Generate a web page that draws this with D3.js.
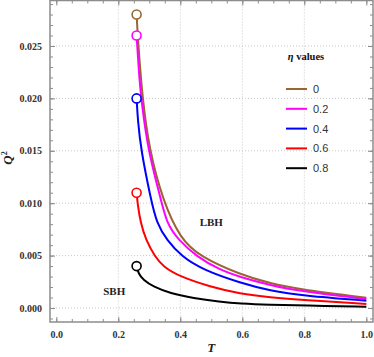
<!DOCTYPE html>
<html>
<head>
<meta charset="utf-8">
<script src="https://cdn.jsdelivr.net/npm/d3@7"></script>
<style>
  body { margin: 0; background: #fff; }
  svg { display: block; }
</style>
</head>
<body>
<svg id="svg" width="374" height="357"></svg>
<script>
// series: T values and Q^2 values
const etaLabels = ['0', '0.2', '0.4', '0.6', '0.8'];
const colors = ['#996633', '#ff00ff', '#0000ff', '#ff0000', '#000000'];

const T0 = [0.259, 0.2625, 0.2775, 0.300, 0.343, 0.400, 0.4635, 0.5926, 0.689, 0.797, 1.0];
const Q0 = [0.0280, 0.0260, 0.0200, 0.0151, 0.0103, 0.0066, 0.0049, 0.0032, 0.00234, 0.00170, 0.00098];

const T2 = [0.259, 0.268, 0.274, 0.295, 0.338, 0.356, 0.3935, 0.453, 0.528, 0.5926, 0.689, 0.797, 1.0];
const Q2 = [0.0260, 0.0218, 0.0200, 0.0151, 0.0103, 0.0081, 0.0065, 0.0049, 0.00363, 0.00296, 0.00217, 0.00156, 0.00086];

const T4 = [0.259, 0.263, 0.273, 0.3055, 0.324, 0.356, 0.4045, 0.474, 0.5926, 0.689, 0.797, 1.0];
const Q4 = [0.0200, 0.0179, 0.0151, 0.0103, 0.0081, 0.0065, 0.0049, 0.00363, 0.00240, 0.00165, 0.00117, 0.00070];

const T6 = [0.259, 0.262, 0.272, 0.289, 0.318, 0.345, 0.399, 0.496, 0.5926, 0.689, 0.797, 1.0];
const Q6 = [0.0110, 0.0100, 0.0081, 0.0065, 0.0049, 0.00394, 0.00299, 0.00203, 0.00136, 0.00102, 0.00076, 0.00038];

const T8 = [0.259, 0.2645, 0.2806, 0.313, 0.367, 0.442, 0.528, 0.5926, 0.689, 0.797, 1.0];
const Q8 = [0.0040, 0.00331, 0.00267, 0.00203, 0.00140, 0.00093, 0.00060, 0.00043, 0.00031, 0.00024, 0.00012];

const xTicks = [0, 0.2, 0.4, 0.6, 0.8, 1.0];
const yTicks = [0, 0.005, 0.010, 0.015, 0.020, 0.025];
const xGrid = [0.2, 0.4, 0.6, 0.8];

const seriesT = [T0, T2, T4, T6, T8];
const seriesQ = [Q0, Q2, Q4, Q6, Q8];

// frame
const frame = {left: 50, right: 373, top: 0.5, bottom: 322};

const svg = d3.select('#svg');

const x = d3.scaleLinear().domain([-0.0203, 1.0215]).range([frame.left, frame.right]);
const y = d3.scaleLinear().domain([-0.001336, 0.02934]).range([frame.bottom, frame.top]);

// grid lines
const grid = svg.append('g').attr('stroke', '#c8c8c8').attr('stroke-width', 1).attr('stroke-dasharray', '1,2');
grid.selectAll('line.gx').data(xGrid).join('line')
  .attr('x1', d => x(d)).attr('x2', d => x(d))
  .attr('y1', frame.top).attr('y2', frame.bottom);
grid.selectAll('line.gy').data(yTicks).join('line')
  .attr('x1', frame.left).attr('x2', frame.right)
  .attr('y1', d => y(d)).attr('y2', d => y(d));

// axes with inward ticks on all four sides
const xMinor = d3.range(0, 1.0001, 0.05);
const yMinor = d3.range(-0.001, 0.0291, 0.001);
const fmtY = d3.format('.3f');
const fmtX = d3.format('.1f');

function axisGroup(axis, tx, ty) {
  const a = svg.append('g').attr('transform', `translate(${tx},${ty})`).call(axis);
  a.select('.domain').remove();
  a.selectAll('line').attr('stroke', '#8c8c8c').attr('stroke-width', 1);
  return a;
}

// minor ticks
axisGroup(d3.axisBottom(x).tickValues(xMinor).tickSize(-3).tickFormat(''), 0, frame.bottom);
axisGroup(d3.axisTop(x).tickValues(xMinor).tickSize(-3).tickFormat(''), 0, frame.top);
axisGroup(d3.axisLeft(y).tickValues(yMinor).tickSize(-3).tickFormat(''), frame.left, 0);
axisGroup(d3.axisRight(y).tickValues(yMinor).tickSize(-3).tickFormat(''), frame.right, 0);

// major ticks + labels
const bx = axisGroup(d3.axisBottom(x).tickValues(xTicks).tickSize(-5).tickPadding(9).tickFormat(fmtX), 0, frame.bottom);
axisGroup(d3.axisTop(x).tickValues(xTicks).tickSize(-5).tickFormat(''), 0, frame.top);
const ly = axisGroup(d3.axisLeft(y).tickValues(yTicks).tickSize(-5).tickPadding(8).tickFormat(fmtY), frame.left, 0);
axisGroup(d3.axisRight(y).tickValues(yTicks).tickSize(-5).tickFormat(''), frame.right, 0);

[bx, ly].forEach(a => a.selectAll('text')
  .attr('font-family', 'Liberation Serif, serif')
  .attr('font-weight', 'bold')
  .attr('font-size', 10)
  .attr('fill', '#333'));

// frame box
svg.append('rect')
  .attr('x', frame.left).attr('y', frame.top)
  .attr('width', frame.right - frame.left).attr('height', frame.bottom - frame.top)
  .attr('fill', 'none').attr('stroke', '#8c8c8c').attr('stroke-width', 1.5);

// curves (B-spline smooths the small reading errors)
const line = d3.line()
  .x(d => x(d[0])).y(d => y(d[1]))
  .curve(d3.curveBasis);

const curves = svg.append('g');
seriesT.forEach((ts, i) => {
  const pts = ts.map((t, j) => [t, seriesQ[i][j]]);
  curves.append('path')
    .attr('d', line(pts))
    .attr('fill', 'none')
    .attr('stroke', colors[i])
    .attr('stroke-width', 2);
});

// start points
seriesT.forEach((ts, i) => {
  svg.append('circle')
    .attr('cx', x(ts[0])).attr('cy', y(seriesQ[i][0]))
    .attr('r', 4.5)
    .attr('fill', '#fff')
    .attr('stroke', colors[i])
    .attr('stroke-width', 1.6);
});

// annotations
const serifBold = g => g.attr('font-family', 'Liberation Serif, serif').attr('font-weight', 'bold').attr('font-size', 11).attr('fill', '#222');
svg.append('text').attr('x', x(0.5)).attr('y', y(0.00787)).attr('text-anchor', 'middle').text('LBH').call(serifBold);
svg.append('text').attr('x', x(0.187)).attr('y', y(0.00126)).attr('text-anchor', 'middle').text('SBH').call(serifBold);

// axis titles
svg.append('text')
  .attr('x', x(0.5)).attr('y', 352)
  .attr('text-anchor', 'middle')
  .attr('font-family', 'Liberation Serif, serif')
  .attr('font-style', 'italic').attr('font-weight', 'bold').attr('font-size', 13)
  .attr('fill', '#222')
  .text('T');

const qLab = svg.append('text')
  .attr('transform', 'translate(12,158) rotate(-90)')
  .attr('text-anchor', 'middle')
  .attr('font-family', 'Liberation Serif, serif')
  .attr('font-style', 'italic').attr('font-weight', 'bold').attr('font-size', 13)
  .attr('fill', '#222');
qLab.append('tspan').text('Q');
qLab.append('tspan').attr('dy', -5).attr('font-size', 8).attr('font-style', 'normal').text('2');

// legend
const legend = svg.append('g').attr('transform', 'translate(286,56)');
const lt = legend.append('text')
  .attr('x', 20).attr('y', 4)
  .attr('text-anchor', 'middle')
  .attr('font-family', 'Liberation Serif, serif')
  .attr('font-weight', 'bold').attr('font-size', 10.5)
  .attr('fill', '#111');
lt.append('tspan').attr('font-style', 'italic').text('η');
lt.append('tspan').text(' values');

const rows = legend.selectAll('g.row').data(etaLabels).join('g')
  .attr('transform', (d, i) => `translate(0,${33 + i * 19.8})`);
rows.append('line')
  .attr('x1', 0).attr('x2', 21)
  .attr('stroke', (d, i) => colors[i]).attr('stroke-width', 2);
rows.append('text')
  .attr('x', 27).attr('y', 4)
  .attr('font-family', 'Liberation Sans, Arial, sans-serif')
  .attr('font-size', 11)
  .attr('fill', '#333')
  .text(d => d);
</script>
</body>
</html>
